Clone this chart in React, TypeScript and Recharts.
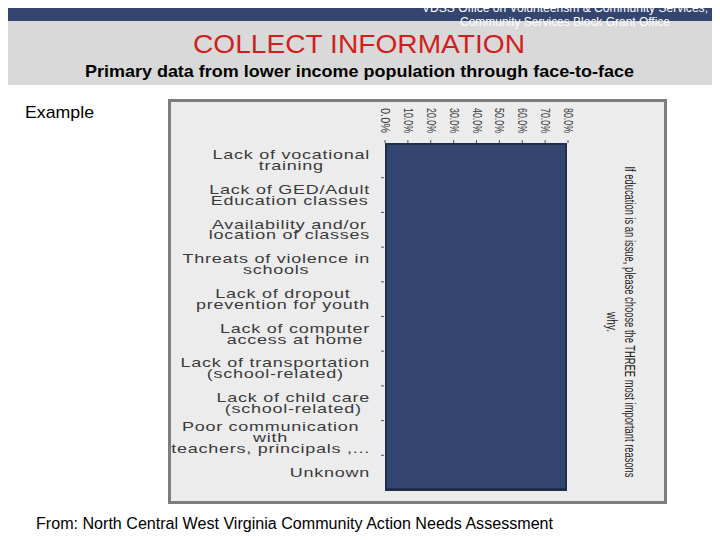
import { BarChart, Bar, XAxis, YAxis } from "recharts";

const categories = [
  "Lack of vocational\ntraining",
  "Lack of GED/Adult\nEducation classes",
  "Availability and/or\nlocation of classes",
  "Threats of violence in\nschools",
  "Lack of dropout\nprevention for youth",
  "Lack of computer\naccess at home",
  "Lack of transportation\n(school-related)",
  "Lack of child care\n(school-related)",
  "Poor communication\nwith\nteachers, principals ,...",
  "Unknown",
];

const responseShares = [79.6, 79.6, 79.6, 79.6, 79.6, 79.6, 79.6, 79.6, 79.6, 79.6];

const pctTicks = [0, 10, 20, 30, 40, 50, 60, 70, 80];

const chartData = categories.map((c, i) => ({ reason: c, share: responseShares[i] }));

const FONT = "'Liberation Sans', Arial, sans-serif";
const NAVY = "#34466f";
const NAVY_EDGE = "#232e4c";

const BAND = 34.7;
const LABEL_SIZE = 12;
const STRETCH = 1.5;
const SPACING = 0.5;

let measureCtx: CanvasRenderingContext2D | null = null;
function textWidth(s: string) {
  if (!measureCtx) {
    measureCtx = document.createElement("canvas").getContext("2d");
  }
  if (!measureCtx) return s.length * 6.3;
  measureCtx.font = `${LABEL_SIZE}px 'Liberation Sans', Arial, sans-serif`;
  return measureCtx.measureText(s).width + SPACING * s.length;
}

function PctTick(props: any) {
  const { x, y, payload } = props;
  return (
    <text
      x={x}
      y={y}
      transform={`rotate(90, ${x}, ${y})`}
      textAnchor="end"
      dominantBaseline="central"
      fontSize={12}
      fill="#3a3a3a"
      fontFamily={FONT}
      textLength={25}
      lengthAdjust="spacingAndGlyphs"
    >
      {`${Number(payload.value).toFixed(1)}%`}
    </text>
  );
}

function ReasonTick(props: any) {
  const { x, y, payload, index } = props;
  const lines: string[] = String(payload.value).split("\n");
  const widest = Math.max(...lines.map((l) => textWidth(l))) * STRETCH;
  const cx = x - widest / 2;
  const lh = 10.8;
  const y0 = y - ((lines.length - 1) * lh) / 2;
  return (
    <g>
      {lines.map((l, i) => (
        <g key={i} transform={`translate(${cx}, ${y0 + i * lh}) scale(${STRETCH}, 1)`}>
          <text
            x={0}
            y={0}
            textAnchor="middle"
            dominantBaseline="central"
            fontSize={LABEL_SIZE}
            letterSpacing={SPACING}
            fill="#3a3a3a"
            fontFamily={FONT}
          >
            {l}
          </text>
        </g>
      ))}
      {index < categories.length - 1 && (
        <line x1={x + 11} x2={x + 14} y1={y + BAND / 2} y2={y + BAND / 2} stroke="#555" />
      )}
    </g>
  );
}

function BlockBar(props: any) {
  const { x, y, width, height, index } = props;
  const last = categories.length - 1;
  return (
    <g shapeRendering="crispEdges">
      <rect x={x} y={y - 0.5} width={width} height={height + 1} fill={NAVY} />
      <line x1={x + 1} x2={x + 1} y1={y - 0.5} y2={y + height + 0.5} stroke={NAVY_EDGE} strokeWidth={2.5} />
      <line x1={x + width - 1} x2={x + width - 1} y1={y - 0.5} y2={y + height + 0.5} stroke={NAVY_EDGE} strokeWidth={2.5} />
      {index === 0 && <line x1={x} x2={x + width} y1={y + 1} y2={y + 1} stroke={NAVY_EDGE} strokeWidth={2.5} />}
      {index === last && (
        <line x1={x} x2={x + width} y1={y + height - 1} y2={y + height - 1} stroke={NAVY_EDGE} strokeWidth={2.5} />
      )}
    </g>
  );
}

export default function App() {
  return (
    <div style={{ position: "relative", width: 720, height: 540, margin: -8, overflow: "hidden", background: "#fff" }}>
      <svg width={720} height={540} style={{ position: "absolute", left: 0, top: 0 }} fontFamily={FONT}>
        <rect x={0} y={0} width={720} height={21} fill={NAVY} />
        <rect x={0} y={21} width={720} height={64} fill="#d9d9d9" />
        <text x={422} y={8} fontSize={12} fill="#fff" dominantBaseline="central" textLength={286} lengthAdjust="spacingAndGlyphs">
          VDSS Office on Volunteerism &amp; Community Services;
        </text>
        <text x={460} y={22} fontSize={12} fill="#fff" dominantBaseline="central" textLength={210} lengthAdjust="spacingAndGlyphs">
          Community Services Block Grant Office
        </text>
        <text x={193} y={44} fontSize={26} fill="#d11f1f" dominantBaseline="central" textLength={332} lengthAdjust="spacingAndGlyphs">
          COLLECT INFORMATION
        </text>
        <text x={85} y={71} fontSize={17} fontWeight="bold" fill="#000" dominantBaseline="central" textLength={549} lengthAdjust="spacingAndGlyphs">
          Primary data from lower income population through face-to-face
        </text>
        <text x={25} y={112} fontSize={17} fill="#000" dominantBaseline="central" textLength={69} lengthAdjust="spacingAndGlyphs">
          Example
        </text>
        <text x={36} y={523} fontSize={16} fill="#000" dominantBaseline="central" textLength={517} lengthAdjust="spacingAndGlyphs">
          From: North Central West Virginia Community Action Needs Assessment
        </text>
      </svg>

      <div
        style={{
          position: "absolute",
          left: 168,
          top: 99,
          width: 499,
          height: 405,
          border: "3px solid #7d7d7d",
          boxSizing: "border-box",
          background: "#ececec",
        }}
      >
        <BarChart
          width={493}
          height={399}
          data={chartData}
          layout="vertical"
          barCategoryGap={0}
          margin={{ top: 11, right: 96, bottom: 5, left: 0 }}
        >
          <XAxis
            type="number"
            orientation="top"
            xAxisId="top"
            domain={[0, 80]}
            ticks={pctTicks}
            height={30}
            axisLine={false}
            tickSize={3}
            tickMargin={7}
            tickLine={{ stroke: "#555" }}
            tick={<PctTick />}
            interval={0}
          />
          <XAxis
            type="number"
            orientation="bottom"
            xAxisId="bottom"
            domain={[0, 80]}
            ticks={pctTicks}
            height={6}
            axisLine={false}
            tickSize={5}
            tickLine={{ stroke: "#555" }}
            tick={false}
            interval={0}
          />
          <YAxis
            type="category"
            dataKey="reason"
            width={214}
            axisLine={false}
            tickLine={false}
            tickSize={0}
            tickMargin={15}
            tick={<ReasonTick />}
            interval={0}
          />
          <Bar dataKey="share" xAxisId="top" isAnimationActive={false} shape={<BlockBar />} />
        </BarChart>
      </div>

      <svg width={720} height={540} style={{ position: "absolute", left: 0, top: 0, pointerEvents: "none" }} fontFamily={FONT}>
        <text
          x={630}
          y={322}
          transform="rotate(90, 630, 322)"
          textAnchor="middle"
          dominantBaseline="central"
          fontSize={14}
          fill="#222"
          textLength={311}
          lengthAdjust="spacingAndGlyphs"
        >
          If education is an issue, please choose the THREE most important reasons
        </text>
        <text
          x={612}
          y={322}
          transform="rotate(90, 612, 322)"
          textAnchor="middle"
          dominantBaseline="central"
          fontSize={14}
          fill="#222"
          textLength={20}
          lengthAdjust="spacingAndGlyphs"
        >
          why.
        </text>
      </svg>
    </div>
  );
}
